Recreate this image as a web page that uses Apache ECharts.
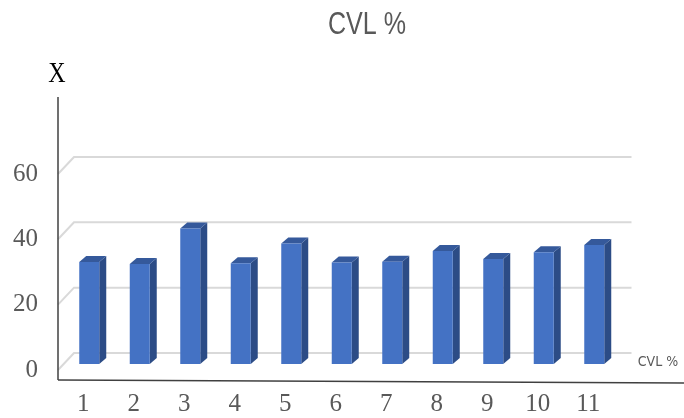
<!DOCTYPE html>
<html>
<head>
<meta charset="utf-8">
<script src="https://cdn.jsdelivr.net/npm/echarts@6/dist/echarts.min.js"></script>
<style>
  html, body { margin: 0; padding: 0; background: #fff; }
  #chart { width: 684px; height: 418px; }
</style>
</head>
<body>
<div id="chart"></div>
<script>
// Category labels along the front axis
const categories = ['1', '2', '3', '4', '5', '6', '7', '8', '9', '10', '11'];
// CVL % per category
const cvlValues = [31.2, 30.6, 41.5, 30.8, 36.9, 31.1, 31.3, 34.6, 32.1, 34.2, 36.4];
// Back-wall gridline levels
const wallLevels = [0, 20, 40, 60];

const TEXT_GREY = '#595959';
const SERIF = '"Liberation Serif", "Times New Roman", serif';
const SANS = '"Liberation Sans", Arial, sans-serif';
const CONDENSED = '"DejaVu Sans Condensed", "Liberation Sans", sans-serif';

// Pseudo-3D depth of the box and of each column
const WALL_DX = 16, WALL_DY = -17;   // back wall offset from the front plane
const BAR_DX = 6, BAR_DY = -6;       // column front face offset
const SIDE_DX = 7, SIDE_DY = -6;     // column thickness

const chart = echarts.init(document.getElementById('chart'));

function renderWall(params, api) {
  const v = api.value(0);
  const cs = params.coordSys;
  const y = api.coord([0, v])[1];
  return {
    type: 'polyline',
    shape: {
      points: [
        [cs.x, y],
        [cs.x + WALL_DX, y + WALL_DY],
        [cs.x + cs.width + WALL_DX + 2, y + WALL_DY]
      ]
    },
    style: { stroke: '#d9d9d9', lineWidth: 2, fill: null },
    silent: true
  };
}

function renderColumn(params, api) {
  const i = api.value(0);
  const v = api.value(1);
  const base = api.coord([i, 0]);
  const top = api.coord([i, v]);
  const band = api.size([1, 0])[0];
  const w = band * 0.396;
  const cx = base[0] + BAR_DX;
  const x0 = cx - w / 2, x1 = cx + w / 2;
  const yb = base[1] + BAR_DY, yt = top[1] + BAR_DY;
  return {
    type: 'group',
    children: [
      {
        type: 'polygon',
        shape: { points: [[x1, yb], [x1 + SIDE_DX, yb + SIDE_DY], [x1 + SIDE_DX, yt + SIDE_DY], [x1, yt]] },
        style: { fill: '#2c4c86' }
      },
      {
        type: 'polygon',
        shape: { points: [[x0, yt], [x1, yt], [x1 + SIDE_DX, yt + SIDE_DY], [x0 + SIDE_DX, yt + SIDE_DY]] },
        style: { fill: '#35599b' }
      },
      {
        type: 'rect',
        shape: { x: x0, y: yt, width: w, height: yb - yt },
        style: { fill: '#4472c4' }
      }
    ]
  };
}

// A text label squeezed horizontally, centred on (x, y)
function squeezedText(text, x, y, scaleX, font, size, color) {
  return {
    type: 'group',
    x: x,
    y: y,
    scaleX: scaleX,
    scaleY: 1,
    children: [{
      type: 'text',
      x: 0,
      y: 0,
      style: {
        text: text,
        fontFamily: font,
        fontSize: size,
        fill: color,
        align: 'center',
        verticalAlign: 'middle'
      }
    }]
  };
}

chart.setOption({
  animation: false,
  backgroundColor: '#ffffff',
  grid: { left: 58, right: 70.5, top: 108.6, bottom: 48 },
  xAxis: {
    type: 'category',
    data: categories,
    axisLine: { show: false },
    axisTick: { show: false },
    axisLabel: { margin: 22, fontFamily: SERIF, fontSize: 25, color: TEXT_GREY }
  },
  yAxis: {
    type: 'value',
    min: 0,
    max: 80,
    interval: 20,
    axisLine: { show: false },
    axisTick: { show: false },
    splitLine: { show: false },
    axisLabel: {
      margin: 20,
      fontFamily: SERIF,
      fontSize: 25,
      color: TEXT_GREY,
      formatter: v => (v > 60 ? '' : String(v))
    }
  },
  series: [
    {
      type: 'custom',
      name: 'wall',
      renderItem: renderWall,
      data: wallLevels.map(v => [v]),
      encode: { y: 0 },
      silent: true,
      z: 1
    },
    {
      type: 'custom',
      name: 'CVL %',
      renderItem: renderColumn,
      data: cvlValues.map((v, i) => [i, v]),
      encode: { x: 0, y: 1 },
      z: 2
    }
  ],
  graphic: [
    // chart title
    squeezedText('CVL %', 367, 25, 0.81, SANS, 31, TEXT_GREY),
    // value axis name
    squeezedText('X', 57, 74, 0.8, SERIF, 30, '#000000'),
    // depth (series) axis label
    squeezedText('CVL %', 658, 362, 1, CONDENSED, 14, TEXT_GREY),
    // axis frame
    {
      type: 'line',
      shape: { x1: 58, y1: 97, x2: 58, y2: 380 },
      style: { stroke: '#404040', lineWidth: 1.5 },
      z: 10
    },
    {
      type: 'line',
      shape: { x1: 58, y1: 380, x2: 684, y2: 383 },
      style: { stroke: '#404040', lineWidth: 1.5 },
      z: 10
    }
  ]
});
</script>
</body>
</html>
